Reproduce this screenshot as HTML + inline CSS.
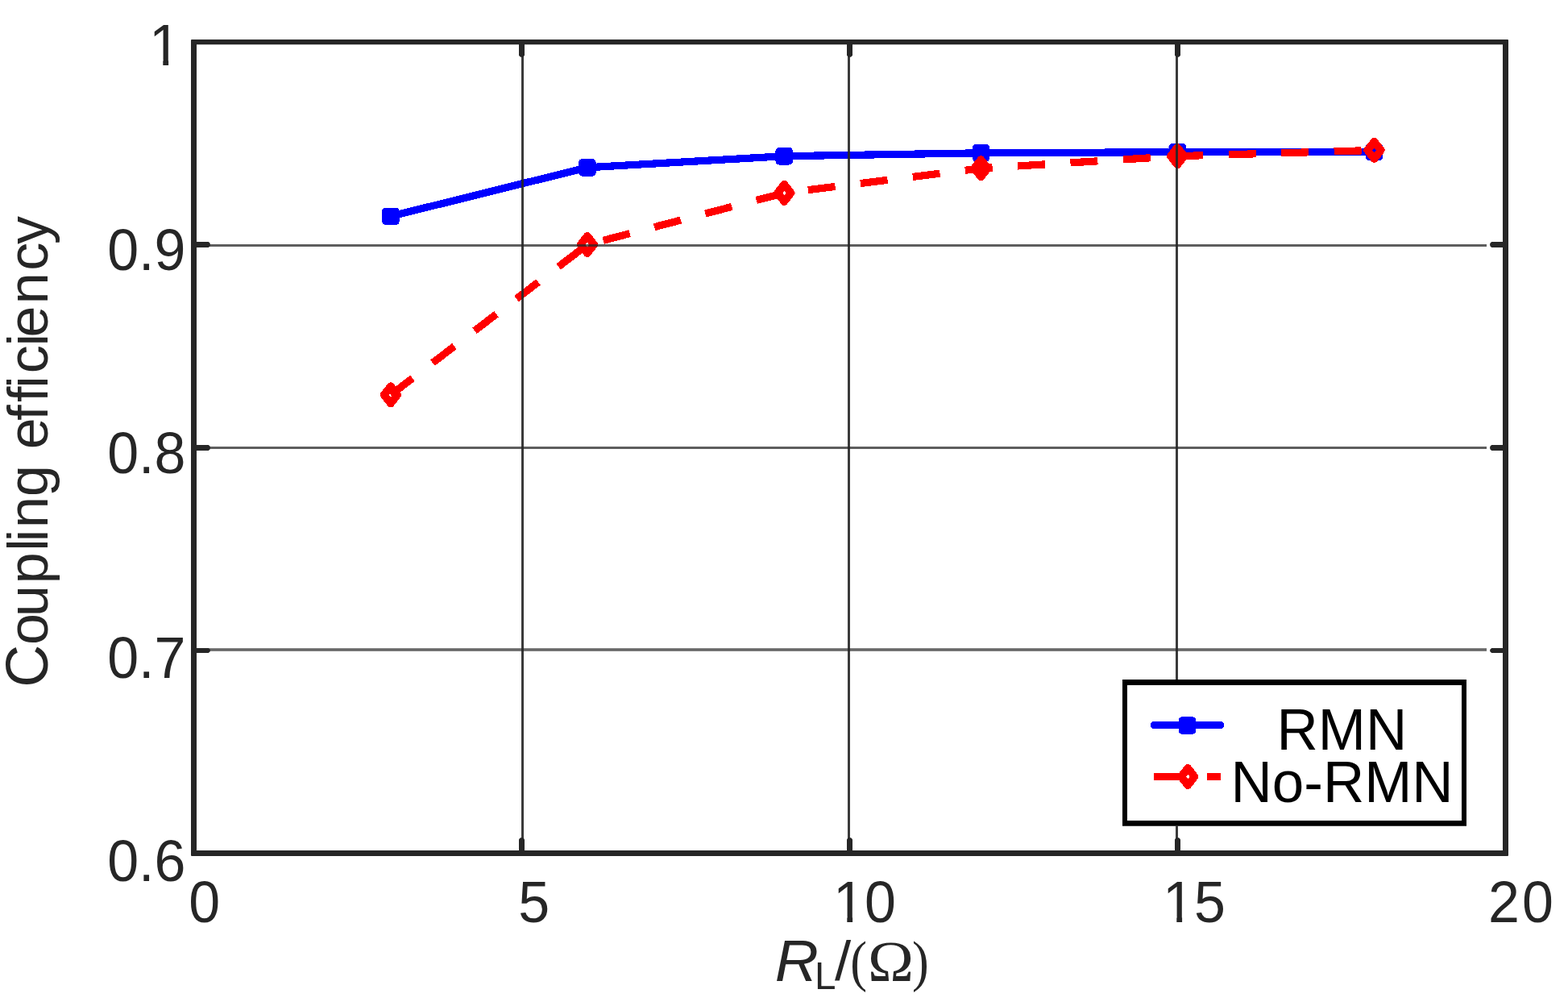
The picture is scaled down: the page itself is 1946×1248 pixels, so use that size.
<!DOCTYPE html>
<html lang="en">
<head>
<meta charset="utf-8">
<title>Coupling efficiency versus load resistance</title>
<style>
html,body{margin:0;padding:0;background:#fff;}
body{width:1946px;height:1248px;overflow:hidden;}
svg{display:block;}
text{font-family:"Liberation Sans",sans-serif;fill:#262626;}
.ser{font-family:"Liberation Serif",serif;}
.leg{fill:#000;}
</style>
</head>
<body>
<svg width="1946" height="1248" viewBox="0 0 1946 1248">
<defs>
<!-- trims the foot of the digit 1 so it reads like the footless 1 of the reference face -->
<clipPath id="c1" clipPathUnits="userSpaceOnUse"><path d="M-5 -60H90V6H37V-6.6H24.1V1H17.3V-6.6H-5Z"/></clipPath>
</defs>
<rect x="0" y="0" width="1946" height="1248" fill="#ffffff"/>

<g shape-rendering="crispEdges" fill="none">
<polyline points="484.9,268.3 728.9,207.8 973.2,193.7 1217.5,189.8 1461.3,188.7 1705.5,188.6" stroke="#0000ff" stroke-width="9.2" stroke-linejoin="round" stroke-linecap="round"/>
<rect x="478.7" y="262.1" width="12.4" height="12.4" fill="#0000ff" stroke="#0000ff" stroke-width="9.2" stroke-linejoin="round"/>
<rect x="722.7" y="201.6" width="12.4" height="12.4" fill="#0000ff" stroke="#0000ff" stroke-width="9.2" stroke-linejoin="round"/>
<rect x="967.0" y="187.5" width="12.4" height="12.4" fill="#0000ff" stroke="#0000ff" stroke-width="9.2" stroke-linejoin="round"/>
<rect x="1211.3" y="183.6" width="12.4" height="12.4" fill="#0000ff" stroke="#0000ff" stroke-width="9.2" stroke-linejoin="round"/>
<rect x="1455.1" y="182.5" width="12.4" height="12.4" fill="#0000ff" stroke="#0000ff" stroke-width="9.2" stroke-linejoin="round"/>
<rect x="1699.3" y="182.4" width="12.4" height="12.4" fill="#0000ff" stroke="#0000ff" stroke-width="9.2" stroke-linejoin="round"/>
<polyline points="484.9,489.9 728.9,303.5 973.3,239.4 1217.4,208.8 1461.2,193.7 1705.5,186.4" stroke="#ff0000" stroke-width="9.2" stroke-linejoin="round" stroke-dasharray="34 31.5"/>
<path d="M484.9 479.2L493.2 489.9L484.9 500.6L476.6 489.9Z" stroke="#ff0000" stroke-width="9.6" stroke-linejoin="round"/>
<path d="M728.9 292.8L737.2 303.5L728.9 314.2L720.6 303.5Z" stroke="#ff0000" stroke-width="9.6" stroke-linejoin="round"/>
<path d="M973.3 228.7L981.6 239.4L973.3 250.1L965.0 239.4Z" stroke="#ff0000" stroke-width="9.6" stroke-linejoin="round"/>
<path d="M1217.4 198.1L1225.7 208.8L1217.4 219.5L1209.1 208.8Z" stroke="#ff0000" stroke-width="9.6" stroke-linejoin="round"/>
<path d="M1461.2 183.0L1469.5 193.7L1461.2 204.4L1452.9 193.7Z" stroke="#ff0000" stroke-width="9.6" stroke-linejoin="round"/>
<path d="M1705.5 175.7L1713.8 186.4L1705.5 197.1L1697.2 186.4Z" stroke="#ff0000" stroke-width="9.6" stroke-linejoin="round"/>
</g>
<g fill="#262626">
<rect x="647" y="55" width="3" height="1000" fill-opacity="0.908"/>
<rect x="1052" y="55" width="3" height="1000" fill-opacity="0.908"/>
<rect x="1459" y="55" width="3" height="1000" fill-opacity="0.908"/>
<rect x="244" y="303" width="1601" height="3" fill-opacity="0.742"/>
<rect x="244" y="554" width="1601" height="3" fill-opacity="0.742"/>
<rect x="244" y="804.2" width="1601" height="3.6" fill-opacity="0.7"/>
</g>
<g fill="#262626">
<path fill-rule="evenodd" d="M238 49H1871Q1872 49 1872 50V1061Q1872 1062 1871 1062H238Q237 1062 237 1061V50Q237 49 238 49Z M244 55.2V1055H1865V55.2Z"/>
<path d="M644 52V68.8L645.6 70.4L647.5 71L649.4 70.4L651 68.8V52Z"/>
<path d="M644 1058V1041.2L645.6 1039.6L647.5 1039L649.4 1039.6L651 1041.2V1058Z"/>
<path d="M1051 52V68.8L1052.6 70.4L1054.5 71L1056.4 70.4L1058 68.8V52Z"/>
<path d="M1051 1058V1041.2L1052.6 1039.6L1054.5 1039L1056.4 1039.6L1058 1041.2V1058Z"/>
<path d="M1458 52V68.8L1459.6 70.4L1461.5 71L1463.4 70.4L1465 68.8V52Z"/>
<path d="M1458 1058V1041.2L1459.6 1039.6L1461.5 1039L1463.4 1039.6L1465 1041.2V1058Z"/>
<path d="M240 300H258.8L260.4 301.61L261 303.50L260.4 305.39L258.8 307H240Z"/>
<path d="M1868 300H1851.2L1849.6 301.61L1849 303.50L1849.6 305.39L1851.2 307H1868Z"/>
<path d="M240 552H258.8L260.4 553.61L261 555.50L260.4 557.39L258.8 559H240Z"/>
<path d="M1868 552H1851.2L1849.6 553.61L1849 555.50L1849.6 557.39L1851.2 559H1868Z"/>
<path d="M240 804H258.8L260.4 805.38L261 807.00L260.4 808.62L258.8 810H240Z"/>
<path d="M1868 804H1851.2L1849.6 805.38L1849 807.00L1849.6 808.62L1851.2 810H1868Z"/>
</g>
<g>
<text transform="translate(185 81) scale(1 1.035)" font-size="70" clip-path="url(#c1)">1</text>
<text transform="translate(133.2 335.2) scale(1 1.035)" font-size="70">0.9</text>
<text transform="translate(133.2 587.2) scale(1 1.035)" font-size="70">0.8</text>
<text transform="translate(133.2 841.1) scale(1 1.035)" font-size="70">0.7</text>
<text transform="translate(133.2 1093.2) scale(1 1.035)" font-size="70">0.6</text>
<text transform="translate(234.2 1144.2) scale(1 1.035)" font-size="70">0</text>
<text transform="translate(643.2 1144.2) scale(1 1.035)" font-size="70">5</text>
<text transform="translate(1034 1144.2) scale(1 1.035)" font-size="70" x="0 39" clip-path="url(#c1)">10</text>
<text transform="translate(1443 1144.2) scale(1 1.035)" font-size="70" x="0 39.1" clip-path="url(#c1)">15</text>
<text transform="translate(1847 1144.2) scale(1 1.035)" font-size="70" x="0 42">20</text>
</g>
<text transform="translate(59.3 853) rotate(-90)" font-size="70" x="0.2 53.0 88.1 128.8 169.3 180.7 197.9 236.9 276.3 295.8 331.3 354.0 371.2 389.8 423.4 434.5 475.8 517.3 549.9" y="0"><tspan font-size="73.4">C</tspan>oupling efficiency</text>
<text y="1216.8"><tspan x="961.8" font-size="72.3" font-style="italic" textLength="54.04" lengthAdjust="spacingAndGlyphs">R</tspan><tspan x="1011.1" font-size="47.6" dy="10.2">L</tspan><tspan x="1036" font-size="67.8" dy="-10.9" textLength="20.16" lengthAdjust="spacingAndGlyphs">/</tspan><tspan x="1055.3" font-size="70.6" dy="-0.1" class="ser" textLength="20.74" lengthAdjust="spacingAndGlyphs">(</tspan><tspan x="1077" font-size="72.05" dy="0.8" class="ser" textLength="57.03" lengthAdjust="spacingAndGlyphs">Ω</tspan><tspan x="1132" font-size="70.6" dy="-0.8" class="ser" textLength="20.74" lengthAdjust="spacingAndGlyphs">)</tspan></text>
<rect x="1393" y="843" width="427" height="181.8" fill="#ffffff"/>
<path fill="#000000" fill-rule="evenodd" d="M1393 843H1820V1024.8H1393Z M1399 849.9V1018.1H1814V849.9Z"/>
<g shape-rendering="crispEdges" fill="none">
<line x1="1432.4" y1="899.4" x2="1514.6" y2="899.4" stroke="#0000ff" stroke-width="9.2" stroke-linecap="round"/>
<rect x="1467.3" y="893.8" width="12.4" height="12.4" fill="#0000ff" stroke="#0000ff" stroke-width="9.2" stroke-linejoin="round"/>
<line x1="1431.8" y1="963.5" x2="1515.1" y2="963.5" stroke="#ff0000" stroke-width="9.2" stroke-dasharray="34 32.2"/>
<path d="M1474.2 952.8L1482.5 963.5L1474.2 974.2L1465.9 963.5Z" stroke="#ff0000" stroke-width="9.6" stroke-linejoin="round"/>
</g>
<text transform="translate(1584.6 930.1) scale(1 1.022)" font-size="71" class="leg">RMN</text>
<text transform="translate(1527.6 994.9) scale(1 1.022)" font-size="71" class="leg">No-RMN</text>
</svg>
</body>
</html>
